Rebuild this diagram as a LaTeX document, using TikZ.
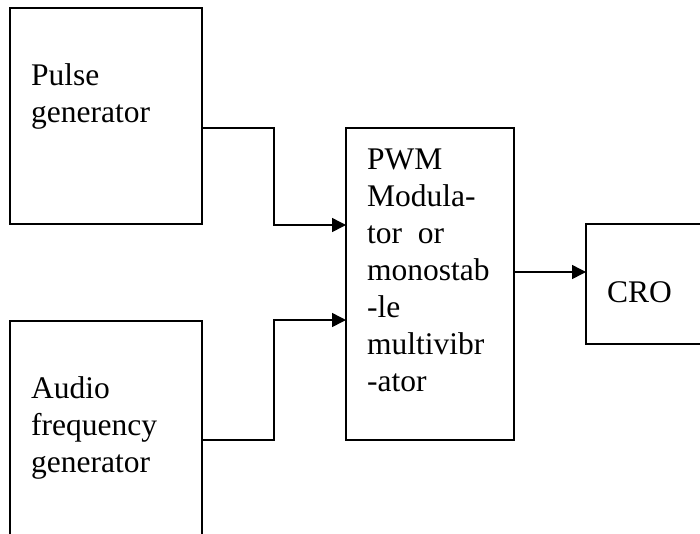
\documentclass[tikz,border=0pt]{standalone}
\usepackage{fontspec}
\setmainfont{Liberation Serif}
\usetikzlibrary{arrows.meta}

\begin{document}
\begin{tikzpicture}[
    x=1pt, y=-1pt,
    block/.style={
        draw=black,
        line width=1.5pt,
        outer sep=0pt,
        inner sep=0pt
    },
    caption/.style={
        anchor=base west,
        align=left,
        inner sep=0pt,
        font=\fontsize{31.5}{37}\selectfont
    },
    link/.style={
        line width=1.5pt,
        -{Triangle[length=14pt,width=14pt]}
    }
]
    \clip (0,0) rectangle (700,533);

    \node[block, minimum width=192pt, minimum height=216pt] (pulse) at (106,116) {};
    \node[block, minimum width=192pt, minimum height=216pt] (audio) at (106,429) {};
    \node[block, minimum width=168pt, minimum height=312pt] (pwm) at (430,284) {};
    \node[block, minimum width=140pt, minimum height=120pt] (cro) at (656,284) {};

    % anchors sit on the baseline of the last line
    \node[caption] (pulsetext) at (31,122) {Pulse\\generator};
    \node[caption] (audiotext) at (31,472) {Audio\\frequency\\generator};
    \node[caption] (pwmtext) at (367,391)
        {PWM\\Modula-\\tor\ \ or\\monostab\\-le\\multivibr\\-ator};
    \node[caption] (crotext) at (607,302) {CRO};

    \draw[link] (pulse.east |- pwm.north) -- ++(72,0) |- ([yshift=59pt]pwm.west);
    \draw[link] (audio.east |- pwm.south) -- ++(72,0) |- ([yshift=-36pt]pwm.west);
    \draw[link] ([yshift=12pt]pwm.east) -- ([yshift=12pt]cro.west);
\end{tikzpicture}
\end{document}
